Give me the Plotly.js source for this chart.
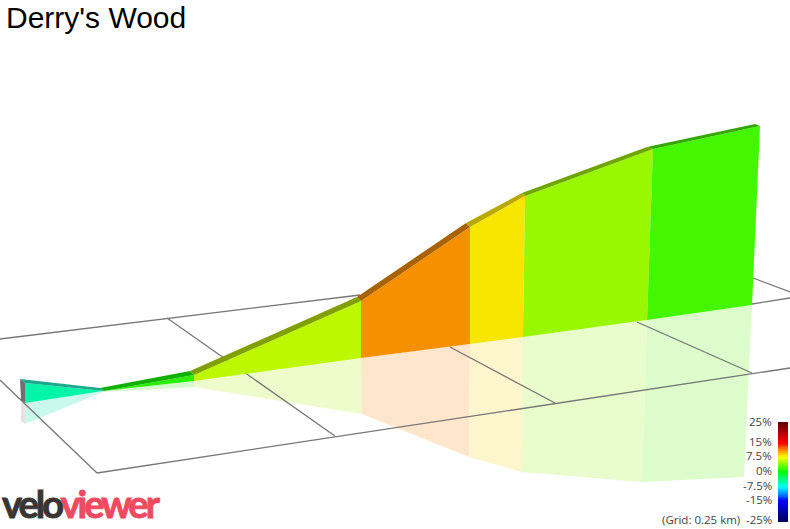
<!DOCTYPE html>
<html><head><meta charset="utf-8">
<script src="https://cdn.plot.ly/plotly-3.0.1.min.js"></script>
<style>
html,body{margin:0;padding:0;background:#fff;overflow:hidden}
.annotation[data-index="0"] text{letter-spacing:-3px;stroke-width:0.9px;paint-order:stroke}
.annotation[data-index="0"] text tspan:nth-of-type(1){stroke:#3a3533}
.annotation[data-index="0"] text tspan:nth-of-type(2){stroke:#f04a60}
</style></head><body>
<div id="chart" style="width:790px;height:529px"></div>
<script>
var titleText = "Derry's Wood";
var segmentColors  = ['#00f5a6','#27f000','#bdf700','#f79000','#f7e600','#99f700','#44f700'];
var bandColors     = ['#1aa98c','#10b000','#829f00','#a86200','#b9a800','#6fa500','#33a800'];
var reflectColors  = ['#c8f9ec','#d4fbcc','#eefccc','#fde6cc','#fdf6cc','#e9fccc','#dcfccc'];

var bandUpperX = [20,100,190,357,466,522,647,755];
var bandUpperY = [379,388,371,297,223,193,147,124];
var wallTopX   = [25,104,194,361,470,525,653,760];
var wallTopY   = [383,391,375,301,227,196,149,126];
var wallBaseX  = [25,103,194,361,470,523,647,752];
var wallBaseY  = [403,391,381,358,344,337,320,305];
var reflectX   = [25,103,194,362,469,522,642,744];
var reflectY   = [424,392,387,414,457,472,482,477];

var capX = [20,25,25,21];
var capY = [379,383,403,400];
var capShadowX = [21,25,25,21];
var capShadowY = [403,403,424,421];

var gridX = [0,360,null,167,335,null,97,790,null,0,97,null,450,555,null,637,752,null,753,790,null,752,790];
var gridY = [339,295,null,318,436,null,473,368,null,380,473,null,347,403,null,322,373,null,278,292,null,304,298];

var legendTicks  = [25,15,7.5,0,-7.5,-15,-25];
var legendLabels = ['25%','15%','7.5%','0%','-7.5%','-15%','-25%'];
var legendLevels = [-25,-24,-23,-22,-21,-20,-19,-18,-17,-16,-15,-14,-13,-12,-11,-10,-9,-8,-7,-6,-5,-4,-3,-2,-1,0,1,2,3,4,5,6,7,8,9,10,11,12,13,14,15,16,17,18,19,20,21,22,23,24,25];

function poly(xs, ys, color){
  return {type:'scatter',mode:'lines',x:xs.concat([xs[0]]),y:ys.concat([ys[0]]),fill:'toself',fillcolor:color,
          line:{width:0,color:color},hoverinfo:'skip',showlegend:false};
}
var reflections=[], walls=[], bands=[];
segmentColors.forEach(function(c,i){
  reflections.push(poly([wallBaseX[i],wallBaseX[i+1],reflectX[i+1],reflectX[i]],[wallBaseY[i],wallBaseY[i+1],reflectY[i+1],reflectY[i]],reflectColors[i]));
  walls.push(poly([wallTopX[i],wallTopX[i+1],wallBaseX[i+1],wallBaseX[i]],[wallTopY[i],wallTopY[i+1],wallBaseY[i+1],wallBaseY[i]],c));
  bands.push(poly([bandUpperX[i],bandUpperX[i+1],wallTopX[i+1],wallTopX[i]],[bandUpperY[i],bandUpperY[i+1],wallTopY[i+1],wallTopY[i]],bandColors[i]));
});
var grid={type:'scatter',mode:'lines',x:gridX,y:gridY,line:{color:'#777777',width:1.3},hoverinfo:'skip',showlegend:false,connectgaps:false};
var legendBar={type:'heatmap',xaxis:'x2',yaxis:'y2',x:[0,1],y:legendLevels,
  z:legendLevels.map(function(v){return [v,v];}),zmin:-25,zmax:25,showscale:false,hoverinfo:'skip',
  colorscale:[[0,'#000066'],[0.2,'#0000ff'],[0.35,'#00ffff'],[0.5,'#00ff00'],[0.65,'#ffff00'],[0.8,'#ff0000'],[1,'#660000']]};

var labelFont={family:'"Open Sans", sans-serif',size:11.5,color:'#444444'};
var data=reflections.concat([poly(capShadowX,capShadowY,'#e4e4e4'),grid],walls,bands,[poly(capX,capY,'#6f6f6f'),legendBar]);
var annotations=[
  {xref:'paper',yref:'paper',x:0,y:0.002,xanchor:'left',yanchor:'bottom',showarrow:false,align:'left',
   text:'<b><span style="color:#3a3533">velo</span><span style="color:#f04a60">viewer</span></b>',
   font:{family:'Lato, sans-serif',size:38}},
  {xref:'paper',yref:'y2',x:741/790,y:-25,yshift:1.5,xanchor:'right',yanchor:'middle',showarrow:false,borderpad:0,
   text:'(Grid: 0.25 km)',font:labelFont}
];
legendTicks.forEach(function(t,i){
  annotations.push({xref:'paper',yref:'y2',x:773/790,y:t,yshift:1.5,xanchor:'right',yanchor:'middle',showarrow:false,borderpad:0,
    text:legendLabels[i],font:labelFont});
});
var layout={
  width:790,height:529,margin:{l:0,r:0,t:0,b:0},paper_bgcolor:'#fff',plot_bgcolor:'rgba(0,0,0,0)',showlegend:false,
  title:{text:titleText,xref:'paper',yref:'paper',x:0.0076,xanchor:'left',y:0.966,yanchor:'middle',
         font:{family:'"Liberation Sans", Arial, sans-serif',size:30,color:'#000'},pad:{t:0,b:0,l:0,r:0}},
  xaxis:{range:[0,790],visible:false,fixedrange:true,domain:[0,1]},
  yaxis:{range:[529,0],visible:false,fixedrange:true,domain:[0,1]},
  xaxis2:{domain:[778/790,788/790],range:[-0.5,1.5],visible:false,anchor:'y2',fixedrange:true},
  yaxis2:{domain:[1-522/529,1-422/529],range:[-25.5,25.5],anchor:'x2',visible:false,fixedrange:true},
  annotations:annotations
};
Plotly.newPlot('chart',data,layout,{displayModeBar:false,staticPlot:true});
</script></body></html>
